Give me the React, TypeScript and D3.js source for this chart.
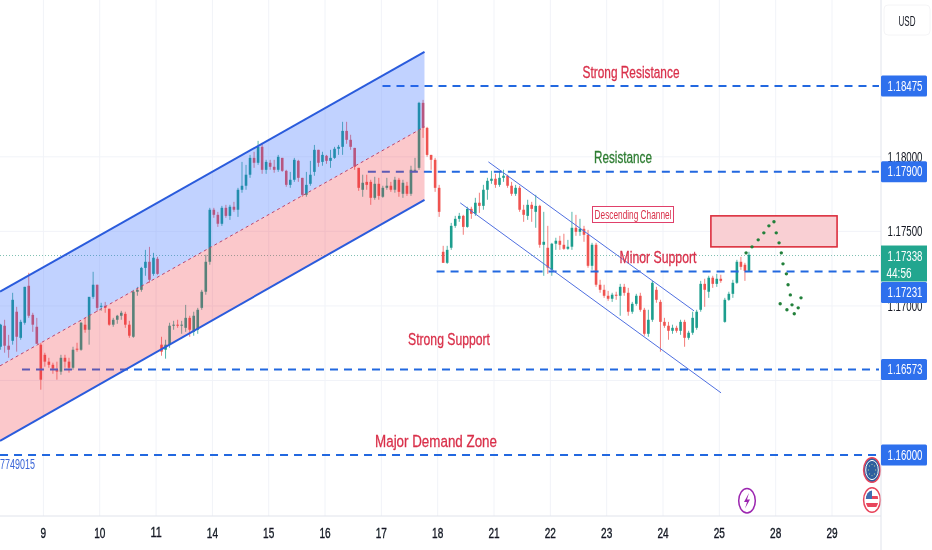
import React from "react";
import * as d3 from "d3";

const WIDTH = 932;
const HEIGHT = 550;
const AXIS_X = 881;
const AXIS_Y = 516;

// trading days shown under the chart
const dayLabels = ["9", "10", "11", "14", "15", "16", "17", "18", "21", "22", "23", "24", "25", "28", "29"];

// candles, prices stored as 1e-5 above 1.0
const opens = [
  16726, 16867, 16733, 16766, 16961, 16786, 16887, 17135, 16940, 16860,
  16740, 16672, 16626, 16605, 16572, 16559, 16652, 16626, 16585, 16713,
  16706, 16874, 16840, 17061, 17142, 16994, 17001, 16981, 16874, 16907,
  16934, 16947, 16874, 16793, 17095, 17108, 17255, 17296, 17215, 17316,
  16740, 16706, 16740, 16867, 16874, 16867, 16853, 16920, 16826, 16840,
  16987, 17095, 17296, 17645, 17611, 17551, 17658, 17604, 17665, 17645,
  17779, 17806, 17880, 17993, 17960, 18067, 17913, 17960, 17933, 17913,
  17993, 17906, 17812, 17846, 17973, 17859, 17745, 17819, 17899, 18047,
  17966, 18007, 17973, 17993, 18054, 18067, 18174, 18114, 18060, 17926,
  17779, 17832, 17832, 17725, 17819, 17732, 17792, 17806, 17779, 17846,
  17752, 17806, 17752, 17913, 17926, 18362, 18194, 18013, 17980, 17792,
  17363, 17289, 17390, 17537, 17584, 17604, 17530, 17651, 17618, 17692,
  17671, 17779, 17839, 17853, 17812, 17859, 17873, 17806, 17752, 17792,
  17645, 17604, 17678, 17631, 17671, 17410, 17390, 17242, 17417, 17437,
  17410, 17383, 17397, 17524, 17497, 17517, 17477, 17269, 17410, 17142,
  17108, 17068, 17048, 17075, 17068, 17128, 17088, 16961, 17014, 17068,
  16974, 16813, 16907, 17108, 17027, 16893, 16867, 16833, 16853, 16833,
  16893, 16786, 16820, 16853, 16974, 17148, 17095, 17189, 17148, 17182,
  16893, 17041, 17081, 17155, 17296, 17276, 17235,
];
const highs = [
  16880, 16907, 16806, 17088, 16994, 16907, 17128, 17222, 16954, 16920,
  16753, 16686, 16652, 16619, 16626, 16672, 16672, 16652, 16726, 16753,
  16893, 16920, 16874, 17229, 17142, 17021, 17027, 16981, 16920, 16940,
  16967, 16961, 16900, 17108, 17128, 17262, 17376, 17396, 17356, 17329,
  16793, 16773, 16887, 16900, 16907, 16900, 17007, 16934, 16961, 16987,
  17108, 17343, 17658, 17658, 17631, 17671, 17678, 17678, 17698, 17792,
  17966, 17946, 18013, 18034, 18107, 18094, 17980, 17980, 17980, 18013,
  17993, 17913, 17899, 17993, 17980, 17859, 17899, 17973, 18080, 18047,
  18034, 18013, 18047, 18067, 18080, 18235, 18235, 18148, 18060, 17926,
  17880, 17880, 17846, 17866, 17859, 17806, 17859, 17832, 17866, 17859,
  17846, 17832, 17940, 17993, 18369, 18382, 18201, 18013, 17993, 17812,
  17403, 17403, 17557, 17604, 17624, 17611, 17665, 17665, 17725, 17759,
  17812, 17859, 17906, 17886, 17899, 17913, 17880, 17832, 17812, 17806,
  17678, 17712, 17698, 17745, 17678, 17631, 17537, 17423, 17457, 17470,
  17484, 17443, 17631, 17611, 17584, 17537, 17510, 17423, 17423, 17175,
  17142, 17101, 17088, 17095, 17148, 17148, 17121, 17027, 17081, 17088,
  16987, 16974, 17168, 17128, 17041, 16920, 16893, 16874, 16867, 16907,
  16907, 16833, 16961, 16974, 17168, 17182, 17202, 17202, 17215, 17209,
  17054, 17095, 17175, 17309, 17329, 17289, 17363,
];
const lows = [
  16706, 16686, 16652, 16740, 16693, 16773, 16874, 16920, 16826, 16746,
  16438, 16592, 16585, 16545, 16505, 16538, 16585, 16552, 16572, 16693,
  16699, 16820, 16740, 17048, 16961, 16967, 16954, 16867, 16860, 16880,
  16907, 16853, 16786, 16786, 17068, 17095, 17202, 17155, 17202, 17209,
  16666, 16646, 16719, 16840, 16853, 16813, 16826, 16793, 16800, 16813,
  16974, 17075, 17276, 17591, 17530, 17537, 17591, 17577, 17631, 17597,
  17759, 17779, 17859, 17926, 17946, 17886, 17886, 17913, 17893, 17899,
  17899, 17799, 17792, 17832, 17832, 17732, 17732, 17806, 17873, 17933,
  17940, 17953, 17926, 17986, 18013, 18013, 18087, 18047, 17913, 17772,
  17732, 17779, 17678, 17712, 17712, 17725, 17779, 17765, 17759, 17732,
  17725, 17738, 17738, 17899, 17913, 18127, 18000, 17913, 17765, 17597,
  17289, 17282, 17376, 17524, 17564, 17477, 17524, 17584, 17604, 17624,
  17645, 17712, 17819, 17792, 17799, 17832, 17792, 17738, 17738, 17631,
  17564, 17577, 17564, 17524, 17390, 17202, 17215, 17202, 17376, 17376,
  17376, 17376, 17376, 17470, 17470, 17430, 17256, 17242, 17128, 17088,
  17054, 17034, 17027, 17041, 16934, 17068, 16934, 16947, 17001, 16961,
  16800, 16793, 16893, 17021, 16693, 16853, 16773, 16813, 16820, 16806,
  16726, 16773, 16806, 16840, 16961, 16994, 17054, 17121, 17128, 17155,
  16887, 17034, 17054, 17148, 17242, 17168, 17229,
];
const closes = [
  16874, 16733, 16706, 17041, 16793, 16893, 17128, 16934, 16874, 16746,
  16505, 16626, 16605, 16579, 16559, 16652, 16626, 16585, 16706, 16706,
  16887, 16840, 17061, 17142, 16987, 17001, 16987, 16874, 16907, 16934,
  16954, 16874, 16800, 17095, 17108, 17255, 17296, 17175, 17323, 17215,
  16693, 16740, 16867, 16874, 16867, 16874, 16920, 16840, 16934, 16974,
  17095, 17296, 17645, 17611, 17551, 17658, 17604, 17665, 17645, 17779,
  17806, 17880, 17993, 17960, 18067, 17913, 17966, 17933, 17913, 18000,
  17906, 17812, 17846, 17980, 17859, 17745, 17812, 17880, 18047, 17960,
  18013, 17973, 17993, 18054, 18067, 18174, 18114, 18067, 17933, 17792,
  17826, 17812, 17725, 17819, 17738, 17792, 17806, 17779, 17846, 17765,
  17826, 17752, 17913, 17913, 18362, 18194, 18013, 17980, 17792, 17631,
  17289, 17376, 17537, 17584, 17604, 17530, 17651, 17618, 17692, 17671,
  17779, 17839, 17853, 17812, 17859, 17873, 17806, 17752, 17792, 17645,
  17611, 17678, 17651, 17671, 17410, 17430, 17256, 17417, 17437, 17410,
  17383, 17397, 17524, 17497, 17517, 17477, 17269, 17410, 17142, 17108,
  17068, 17048, 17075, 17068, 17128, 17088, 16961, 17014, 17068, 16974,
  16813, 16907, 17155, 17041, 16893, 16867, 16833, 16853, 16833, 16893,
  16786, 16820, 16920, 16961, 17148, 17108, 17189, 17148, 17182, 17168,
  17041, 17081, 17155, 17296, 17262, 17235, 17343,
];
const firstCandleDay = -0.76;
const candlesPerDay = 14;

// rising channel
const channelDays = [-0.77, 6.766];
const channelUpper = [1.17095, 1.18704];
const channelMiddle = [1.16598, 1.18201];
const channelLower = [1.16095, 1.17712];

// falling channel
const fallUpperDays = [7.9, 11.55];
const fallUpperPrices = [1.17966, 1.16967];
const fallLowerDays = [7.4, 12.03];
const fallLowerPrices = [1.17691, 1.16417];

// drawn levels
const levelPrices = [1.18475, 1.179, 1.17231, 1.16573, 1.16];
const levelStartDays = [6.02, 5.76, 6.98, -0.38, -0.77];
const levelLabelShift = [0, 0, 21, 0, 0];

const priceTicks = [1.18, 1.175, 1.17, 1.165];
const lastPrice = 1.17338;
const countdown = "44:56";

// supply box
const zoneDays = [11.85, 14.09];
const zonePrices = [1.17604, 1.17396];

// projected path
const forecastDays = [12.475, 12.58, 12.69, 12.79, 12.88, 12.97, 13.01, 13.06, 13.1, 13.13, 13.19, 13.22, 13.26, 13.29, 13.33, 13.2, 13.08, 13.4, 13.45];
const forecastPrices = [1.17356, 1.17396, 1.17443, 1.1749, 1.17537, 1.17564, 1.1749, 1.17423, 1.17356, 1.17282, 1.17215, 1.17142, 1.17074, 1.17007, 1.16947, 1.16974, 1.17014, 1.16987, 1.17054];

const BLUE = "#2f6fed";
const TEAL = "#1f9e8e";
const RED = "#ef5350";
const NOTE_RED = "#d9304a";
const FONT = "'Liberation Sans', Arial, sans-serif";

const xScale = d3.scaleLinear().domain([0, 14]).range([43.4, 832]);
const yScale = d3.scaleLinear().domain([1.16, 1.18475]).range([455, 86]);
const px = (v: number) => yScale(1 + v / 100000);

const measureCtx = document.createElement("canvas").getContext("2d");

// the screenshot is squeezed sideways, so every label is scaled to a measured width
function Squeezed(props: { x: number; y: number; w: number; size: number; fill: string; anchor?: string; bold?: number; children: string }) {
  const { x, y, w, size, fill, anchor = "middle", bold = 0, children } = props;
  let natural = w;
  if (measureCtx) {
    measureCtx.font = `${size}px ${FONT}`;
    natural = measureCtx.measureText(children).width;
  }
  return (
    <text
      transform={`translate(${x} ${y}) scale(${w / natural} 1)`}
      fontSize={size}
      fontFamily={FONT}
      fill={fill}
      stroke={bold ? fill : "none"}
      strokeWidth={bold}
      textAnchor={anchor}
      dominantBaseline="central"
    >
      {children}
    </text>
  );
}

function Candles() {
  return (
    <g>
      {closes.map((c, i) => {
        const x = xScale(firstCandleDay + i / candlesPerDay);
        const top = px(Math.max(opens[i], c));
        const bottom = px(Math.min(opens[i], c));
        const color = c >= opens[i] ? TEAL : RED;
        return (
          <g key={i}>
            <line x1={x} x2={x} y1={px(highs[i])} y2={px(lows[i])} stroke={color} strokeWidth={1} opacity={0.75} />
            <rect x={x - 1.3} y={top} width={2.6} height={Math.max(bottom - top, 1)} fill={color} />
          </g>
        );
      })}
    </g>
  );
}

function Channel() {
  const line = (days: number[], prices: number[]) => ({
    x1: xScale(days[0]),
    x2: xScale(days[1]),
    y1: yScale(prices[0]),
    y2: yScale(prices[1]),
  });
  const band = d3
    .area<number>()
    .x((d) => xScale(d))
    .y0((_, i) => yScale(channelMiddle[i]));
  const upperBand = band.y1((_, i) => yScale(channelUpper[i]))(channelDays) || "";
  const lowerBand = band.y1((_, i) => yScale(channelLower[i]))(channelDays) || "";
  return (
    <g>
      <path d={upperBand} fill="rgba(41,98,255,0.28)" />
      <path d={lowerBand} fill="rgba(242,54,69,0.28)" />
      <line {...line(channelDays, channelMiddle)} stroke="#b8466e" strokeWidth={1} strokeDasharray="3 3" />
      <line {...line(channelDays, channelUpper)} stroke="#2a5bdc" strokeWidth={2} />
      <line {...line(channelDays, channelLower)} stroke="#2a5bdc" strokeWidth={2} />
      <line {...line(fallUpperDays, fallUpperPrices)} stroke="#4f6fe0" strokeWidth={1} />
      <line {...line(fallLowerDays, fallLowerPrices)} stroke="#4f6fe0" strokeWidth={1} />
    </g>
  );
}

function Badges() {
  const bx = 872;
  return (
    <g>
      <ellipse cx={bx} cy={470} rx={8.4} ry={12.3} fill="#2d5f9e" stroke="#e8455c" strokeWidth={1.5} />
      <ellipse cx={bx} cy={470} rx={6.3} ry={9.6} fill="#2d5f9e" stroke="#fff" strokeWidth={1} />
      {d3.range(8).map((i) => (
        <circle
          key={i}
          cx={bx + 3.6 * Math.cos((i * Math.PI) / 4)}
          cy={470 + 5.6 * Math.sin((i * Math.PI) / 4)}
          r={0.7}
          fill="#9fb4a0"
        />
      ))}
      <clipPath id="us-flag">
        <ellipse cx={bx} cy={500} rx={6.3} ry={9.6} />
      </clipPath>
      <ellipse cx={bx} cy={500} rx={8.4} ry={12.3} fill="#fff" stroke="#e8455c" strokeWidth={1.5} />
      <g clipPath="url(#us-flag)">
        <rect x={bx - 7} y={490} width={14} height={20} fill="#fff" />
        <rect x={bx - 7} y={496} width={14} height={3} fill="#e8455c" />
        <rect x={bx - 7} y={503} width={14} height={4} fill="#e8455c" />
        <rect x={bx - 7} y={490} width={7} height={9} fill="#3f6db0" />
      </g>
      <ellipse cx={747} cy={500.7} rx={8.3} ry={12.2} fill="#fff" stroke="#9c27b0" strokeWidth={1.5} />
      <path d="M749 493 L744 502 L747 502 L745 508.5 L750 499.5 L747 499.5 Z" fill="#9c27b0" />
    </g>
  );
}

export default function App() {
  return (
    <svg
      width={WIDTH}
      height={HEIGHT}
      viewBox={`0 0 ${WIDTH} ${HEIGHT}`}
      style={{ position: "absolute", left: 0, top: 0, background: "#fff" }}
    >
      <defs>
        <filter id="soft" x="0" y="0" width="100%" height="100%" filterUnits="userSpaceOnUse">
          <feGaussianBlur stdDeviation="0.35" />
        </filter>
      </defs>

      <g filter="url(#soft)">
        <g stroke="#f1f3f8" strokeWidth={1}>
          {dayLabels.map((_, i) => (
            <line key={i} x1={xScale(i)} x2={xScale(i)} y1={0} y2={AXIS_Y} />
          ))}
          {priceTicks.map((p) => (
            <line key={p} x1={0} x2={AXIS_X} y1={yScale(p)} y2={yScale(p)} />
          ))}
        </g>

        <line x1={0} x2={AXIS_X} y1={yScale(lastPrice)} y2={yScale(lastPrice)} stroke="#7fbfb2" strokeWidth={1} strokeDasharray="1 2" />

        <Candles />

        {levelPrices.map((p, i) => (
          <line
            key={p}
            x1={xScale(levelStartDays[i])}
            x2={AXIS_X - 2}
            y1={yScale(p)}
            y2={yScale(p)}
            stroke="#2468e0"
            strokeWidth={2}
            strokeDasharray="8 6"
          />
        ))}

        <Channel />

        <rect
          x={xScale(zoneDays[0])}
          y={yScale(zonePrices[0])}
          width={xScale(zoneDays[1]) - xScale(zoneDays[0])}
          height={yScale(zonePrices[1]) - yScale(zonePrices[0])}
          fill="#f9cfd3"
          stroke="#dc2f3e"
          strokeWidth={1.6}
        />

        {forecastDays.map((d, i) => (
          <circle key={i} cx={xScale(d)} cy={yScale(forecastPrices[i])} r={1.7} fill="#23803a" />
        ))}

        <Squeezed x={631} y={72} w={97} size={17} fill={NOTE_RED} bold={0.3}>Strong Resistance</Squeezed>
        <Squeezed x={623} y={157} w={58} size={17} fill="#2e7d32" bold={0.3}>Resistance</Squeezed>
        <Squeezed x={658} y={257} w={77} size={17} fill={NOTE_RED} bold={0.3}>Minor Support</Squeezed>
        <Squeezed x={449} y={339} w={82} size={17} fill={NOTE_RED} bold={0.3}>Strong Support</Squeezed>
        <Squeezed x={436} y={441} w={122} size={17} fill={NOTE_RED} bold={0.3}>Major Demand Zone</Squeezed>
        <rect x={592.5} y={206.5} width={81} height={16} fill="#fff" stroke="#e0406a" strokeWidth={1} />
        <Squeezed x={633} y={214.5} w={77} size={12.5} fill={NOTE_RED}>Descending Channel</Squeezed>
        <Squeezed x={0} y={464} w={35} size={14} fill="#3a66d8" anchor="start">7749015</Squeezed>

        <Badges />

        {/* price scale and time scale */}
        <line x1={AXIS_X} x2={AXIS_X} y1={0} y2={HEIGHT} stroke="#e0e3eb" strokeWidth={1} />
        <line x1={0} x2={AXIS_X} y1={AXIS_Y} y2={AXIS_Y} stroke="#e0e3eb" strokeWidth={1} />
        {dayLabels.map((d, i) => (
          <Squeezed key={d} x={xScale(i)} y={533} w={d.length * 5.6} size={14} fill="#131722" bold={0.35}>
            {d}
          </Squeezed>
        ))}
        <rect x={884} y={5} width={46} height={30} rx={4} fill="#fff" stroke="#f4f4f6" />
        <Squeezed x={907} y={21} w={17} size={14} fill="#131722">USD</Squeezed>

        {priceTicks.slice(0, 3).map((p) => (
          <Squeezed key={p} x={905} y={yScale(p)} w={35} size={15} fill="#131722">
            {p.toFixed(5)}
          </Squeezed>
        ))}

        <rect x={AXIS_X} y={yScale(lastPrice) - 10} width={46} height={36} fill="#22a68f" />
        <Squeezed x={905} y={yScale(lastPrice) + 1} w={35} size={15} fill="#fff">{lastPrice.toFixed(5)}</Squeezed>
        <Squeezed x={899} y={yScale(lastPrice) + 17} w={25} size={15} fill="#fff">{countdown}</Squeezed>

        {levelPrices.map((p, i) => {
          const cy = yScale(p) + levelLabelShift[i];
          return (
            <g key={p}>
              <rect x={AXIS_X} y={cy - 10.5} width={46} height={21} rx={1.5} fill={BLUE} />
              <Squeezed x={905} y={cy} w={35} size={15} fill="#fff">{p.toFixed(5)}</Squeezed>
            </g>
          );
        })}
      </g>
    </svg>
  );
}
